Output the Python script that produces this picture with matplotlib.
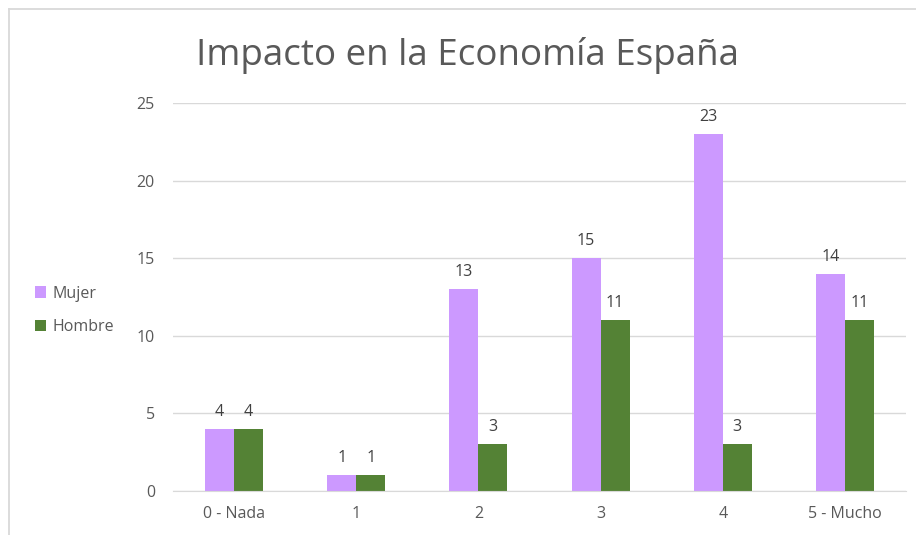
import matplotlib.pyplot as plt
from matplotlib.lines import Line2D
import numpy as np

categorias = ['0 - Nada', '1', '2', '3', '4', '5 - Mucho']
mujer = [4, 1, 13, 15, 23, 14]
hombre = [4, 1, 3, 11, 3, 11]

plt.rcParams['font.family'] = ['Open Sans', 'DejaVu Sans']

fig = plt.figure(figsize=(9.16, 5.35), dpi=100)
ax = fig.add_axes([173 / 916, 1 - 491 / 535, (906 - 173) / 916, (491 - 103) / 535])

# borde gris del grafico (solo se ven arriba y a la izquierda)
bx, by = 8.5 / 916, 1 - 8.5 / 535
fig.lines.append(Line2D([bx, 1.0], [by, by], transform=fig.transFigure,
                        color='#d9d9d9', linewidth=1.3))
fig.lines.append(Line2D([bx, bx], [0.0, by], transform=fig.transFigure,
                        color='#d9d9d9', linewidth=1.3))

x = np.arange(len(categorias))
w = 0.237
b1 = ax.bar(x - w / 2, mujer, w, color='#cc99ff', label='Mujer')
b2 = ax.bar(x + w / 2, hombre, w, color='#548235', label='Hombre')

for barras, vals in ((b1, mujer), (b2, hombre)):
    for r, v in zip(barras, vals):
        ax.annotate(str(v), (r.get_x() + r.get_width() / 2, v), xytext=(0, 6.5),
                    textcoords='offset points', ha='center', va='bottom',
                    fontsize=11.5, color='#404040')

ax.set_xlim(-0.5, len(categorias) - 0.5)
ax.set_ylim(0, 25)
ax.set_yticks(range(0, 26, 5))
ax.set_xticks(x)
ax.set_xticklabels(categorias)
ax.grid(axis='y', color='#d9d9d9', linewidth=1)
ax.set_axisbelow(True)
for s in ('top', 'right', 'left'):
    ax.spines[s].set_visible(False)
ax.spines['bottom'].set_color('#d9d9d9')
ax.tick_params(length=0, labelsize=11.5, labelcolor='#595959')
ax.tick_params(axis='y', pad=13)
ax.tick_params(axis='x', pad=11)

fig.text(468 / 916, 0.897, 'Impacto en la Economía España', ha='center', va='center',
         fontsize=26.5, color='#595959')

fig.legend(handles=[b1, b2], loc='center left', bbox_to_anchor=(0.022, 0.42),
           frameon=False, fontsize=11.5, labelcolor='#595959',
           handlelength=0.7, handleheight=0.7, handletextpad=0.4, labelspacing=1.1)

fig.savefig('out.png', dpi=100)
